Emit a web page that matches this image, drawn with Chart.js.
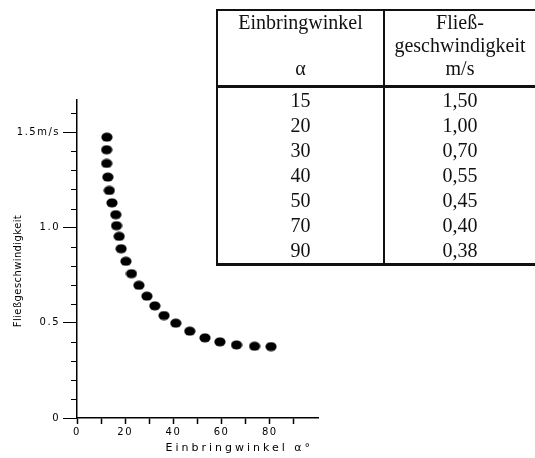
<!DOCTYPE html>
<html>
<head>
<meta charset="utf-8">
<script src="https://cdn.jsdelivr.net/npm/chart.js@4"></script>
<style>
  html, body { margin: 0; padding: 0; background: #fff; }
  #wrap { position: relative; width: 535px; height: 458px; overflow: hidden; }
  #c { position: absolute; left: 0; top: 0; }
  #tbl {
    position: absolute; left: 216px; top: 9px; width: 319px;
    border-collapse: collapse; table-layout: fixed;
    font-family: "Liberation Serif", "Times New Roman", serif; font-size: 20px; color: #111;
  }
  #tbl td { text-align: center; padding: 0; border-left: 2px solid #111; border-right: 2px solid #111; }
  #tbl tr.head td { height: 76px; line-height: 23px; vertical-align: top; padding-top: 0px; box-sizing: border-box; border-top: 2px solid #111; border-bottom: 3px solid #111; }
  #tbl tr.row td { height: 25px; line-height: 25px; }
  #tbl tr.last td { border-bottom: 3px solid #111; }
</style>
</head>
<body>
<div id="wrap">
  <canvas id="c" width="535" height="458"></canvas>
  <table id="tbl"></table>
</div>
<script>
// ---- data ----
const angles = [12.4, 12.3, 12.3, 12.8, 13.4, 14.5, 16.1, 16.4, 17.5, 18.3, 20.3, 22.6, 25.7, 29.0, 32.3, 36.1, 41.0, 46.8, 53.1, 59.3, 66.2, 73.7, 80.5];
const speeds = [1.475, 1.409, 1.337, 1.265, 1.195, 1.13, 1.068, 1.01, 0.954, 0.889, 0.823, 0.758, 0.697, 0.640, 0.589, 0.538, 0.498, 0.456, 0.421, 0.400, 0.384, 0.377, 0.375];
const xTickLabels = ['0', '20', '40', '60', '80'];
const yTickLabels = ['0', '0.5', '1.0', '1.5m/s'];
const xTitle = 'Einbringwinkel α°';
const yTitle = 'Fließgeschwindigkeit';
const tableHeadAngle = ['Einbringwinkel', '', 'α'];
const tableHeadSpeed = ['Fließ-', 'geschwindigkeit', 'm/s'];
const tableAngles = ['15', '20', '30', '40', '50', '70', '90'];
const tableSpeeds = ['1,50', '1,00', '0,70', '0,55', '0,45', '0,40', '0,38'];

// ---- table ----
const tbl = document.getElementById('tbl');
let html = '<colgroup><col style="width:167px"><col style="width:152px"></colgroup>';
html += '<tr class="head"><td>' + tableHeadAngle.map(s => s || '&nbsp;').join('<br>') + '</td><td>' + tableHeadSpeed.join('<br>') + '</td></tr>';
tableAngles.forEach((a, i) => {
  const cls = i === tableAngles.length - 1 ? 'row last' : 'row';
  html += '<tr class="' + cls + '"><td>' + a + '</td><td>' + tableSpeeds[i] + '</td></tr>';
});
tbl.innerHTML = html;

// ---- dot style (ellipse) ----
const dot = document.createElement('canvas');
dot.width = 12; dot.height = 10;
(function () {
  const g = dot.getContext('2d');
  g.fillStyle = '#000';
  g.beginPath();
  g.ellipse(6, 5, 5.6, 4.6, 0, 0, Math.PI * 2);
  g.fill();
})();

const FONT = '"DejaVu Sans", sans-serif';

const extras = {
  id: 'extras',
  beforeDraw(chart) {
    chart.ctx.letterSpacing = '1.5px';
  },
  afterDraw(chart) {
    const ctx = chart.ctx;
    const y = chart.scales.y, x = chart.scales.x;
    const left = chart.chartArea.left;
    ctx.save();
    ctx.strokeStyle = '#000';
    ctx.lineWidth = 1;
    for (let i = 1; i <= 16; i++) {
      if (i % 5 === 0) continue;
      const py = Math.round(y.getPixelForValue(i / 10)) + 0.5;
      ctx.beginPath();
      ctx.moveTo(left - 6, py);
      ctx.lineTo(left, py);
      ctx.stroke();
    }
    ctx.fillStyle = '#000';
    // x title
    ctx.letterSpacing = '3px';
    ctx.font = '11px ' + FONT;
    ctx.textAlign = 'right';
    ctx.textBaseline = 'middle';
    ctx.fillText(xTitle, x.right - 5, 448);
    // y title
    ctx.letterSpacing = '0.4px';
    ctx.font = '10px ' + FONT;
    ctx.translate(18, 271);
    ctx.rotate(-Math.PI / 2);
    ctx.textAlign = 'center';
    ctx.fillText(yTitle, 0, 0);
    ctx.restore();
  }
};

new Chart(document.getElementById('c'), {
  type: 'scatter',
  data: {
    datasets: [{
      data: angles.map((a, i) => ({ x: a, y: speeds[i] })),
      pointStyle: dot,
      backgroundColor: '#000',
      borderColor: '#000'
    }]
  },
  options: {
    responsive: false,
    animation: false,
    devicePixelRatio: 1,
    layout: { padding: { top: 100, right: 217, left: 0, bottom: 0 } },
    plugins: { legend: { display: false }, tooltip: { enabled: false } },
    scales: {
      x: {
        type: 'linear', min: 0, max: 100,
        afterFit(s) { s.height = 40; },
        border: { display: true, color: '#000', width: 1.5 },
        grid: {
          display: true, drawOnChartArea: false, drawTicks: true, tickLength: 6,
          tickWidth: 1.5,
          tickColor: c => (c.tick && c.tick.value === 100) ? 'rgba(0,0,0,0)' : '#000'
        },
        ticks: {
          stepSize: 10, autoSkip: false, maxRotation: 0, padding: 2,
          color: '#000', font: { family: FONT, size: 10 },
          callback: v => {
            const idx = xTickLabels.indexOf(String(v));
            return idx >= 0 ? xTickLabels[idx] : '';
          }
        },
        title: { display: false }
      },
      y: {
        type: 'linear', min: 0, max: 1.67,
        afterFit(s) { s.width = 77; },
        border: { display: true, color: '#000', width: 1.5 },
        grid: { display: true, drawOnChartArea: false, drawTicks: true, tickLength: 14, tickColor: '#000', tickWidth: 1 },
        ticks: {
          stepSize: 0.5, includeBounds: false, autoSkip: false, padding: 3,
          color: '#000', font: { family: FONT, size: 10 },
          callback: v => yTickLabels[Math.round(v / 0.5)]
        }
      }
    }
  },
  plugins: [extras]
});
</script>
</body>
</html>
